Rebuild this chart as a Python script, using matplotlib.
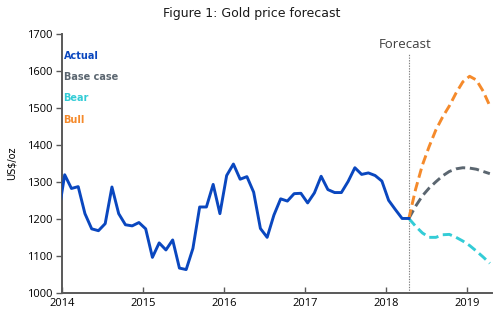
import matplotlib
matplotlib.use("Agg")
import matplotlib.pyplot as plt
import numpy as np

# ---- data ----
# monthly actual gold price (US$/oz), month index 0 = Jan 2014 (first value is Dec 2013, clipped)
actual_start_month = -1
actual_values = [1205, 1319, 1282, 1287, 1214, 1173, 1168, 1187, 1286, 1214, 1184, 1181,
                 1190, 1173, 1096, 1135, 1116, 1143, 1067, 1063, 1120, 1232, 1232, 1293,
                 1214, 1317, 1348, 1307, 1314, 1272, 1174, 1150, 1210, 1254, 1248, 1268,
                 1269, 1243, 1270, 1315, 1279, 1271, 1271, 1301, 1338, 1320, 1324, 1317,
                 1302, 1250, 1225, 1201, 1201]
forecast_start_month = 51
base_values = [1201, 1234, 1262, 1283, 1300, 1316, 1328, 1335, 1338, 1337, 1334, 1328, 1322]
bear_values = [1201, 1180, 1162, 1150, 1150, 1157, 1158, 1150, 1140, 1128, 1113, 1097, 1080]
bull_values = [1201, 1280, 1345, 1395, 1440, 1475, 1505, 1540, 1570, 1585, 1575, 1545, 1505]
x_ticks = [2014, 2015, 2016, 2017, 2018, 2019]
y_ticks = [1000, 1100, 1200, 1300, 1400, 1500, 1600, 1700]
series_names = ["Actual", "Base case", "Bear", "Bull"]

def month_to_year(m):
    return 2014 + (np.asarray(m) + 0.4) / 12.0

x_act = month_to_year(np.arange(len(actual_values)) + actual_start_month)
x_fc = month_to_year(np.arange(len(base_values)) + forecast_start_month)

c_act = "#0A47BF"
c_base = "#5B6670"
c_bear = "#33CCD6"
c_bull = "#F58A2B"
axis_col = "#595959"

fig = plt.figure(figsize=(5.0, 3.24), dpi=100)
ax = fig.add_axes([0.124, 0.096, 0.86, 0.80])

ax.plot(x_act, actual_values, color=c_act, lw=2.1, solid_joinstyle="round", zorder=4)
dash = (3.2, 1.6)
ax.plot(x_fc, base_values, color=c_base, lw=2.1, dashes=dash, zorder=3)
ax.plot(x_fc, bear_values, color=c_bear, lw=2.1, dashes=dash, zorder=3)
ax.plot(x_fc, bull_values, color=c_bull, lw=2.1, dashes=dash, zorder=3)

fx = x_fc[0]
ax.plot([fx, fx], [1000, 1645], color="#7F7F7F", lw=0.8, ls=(0, (1.2, 1.2)), zorder=2,
        clip_on=False)
ax.text(fx - 0.04, 1672, "Forecast", ha="center", va="center", fontsize=9.5,
        family="Open Sans", color="#404040")

ax.set_xlim(2014, 2019.31)
ax.set_ylim(1000, 1700)
ax.set_xticks(x_ticks)
ax.set_yticks(y_ticks)
ax.set_xticklabels([str(t) for t in x_ticks], family="Open Sans", fontsize=8)
ax.set_yticklabels([str(t) for t in y_ticks], family="Open Sans", fontsize=8)
ax.tick_params(axis="x", direction="in", length=4, color=axis_col, width=1, pad=4)
ax.tick_params(axis="y", direction="out", length=4, color=axis_col, width=1, pad=3)
for s in ["top", "right"]:
    ax.spines[s].set_visible(False)
for s in ["left", "bottom"]:
    ax.spines[s].set_color(axis_col)
    ax.spines[s].set_linewidth(1.4)
ax.set_ylabel("US$/oz", fontsize=7, family="DejaVu Sans", labelpad=7)

label_cols = [c_act, c_base, c_bear, c_bull]
label_y = [1640, 1583, 1525, 1468]
for name, col, yy in zip(series_names, label_cols, label_y):
    ax.text(2014.02, yy, name, color=col, fontsize=7, fontweight="bold",
            family="DejaVu Sans", ha="left", va="center")

fig.text(0.503, 0.957, "Figure 1: Gold price forecast", ha="center", va="center",
         fontsize=9, family="DejaVu Sans", color="#1a1a1a")

fig.savefig("out.png", dpi=100)
